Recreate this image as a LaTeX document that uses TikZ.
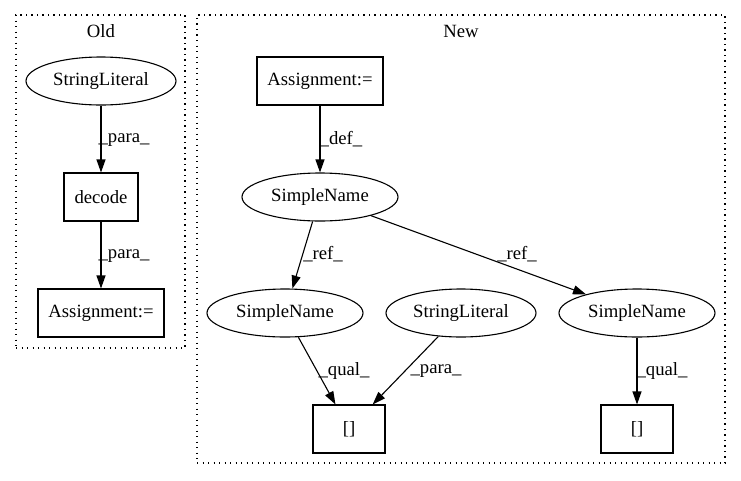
\documentclass[tikz,border=0pt]{standalone}
\usepackage{fontspec}
\setmainfont{Liberation Serif}
\usetikzlibrary{shapes.geometric,arrows.meta}
\begin{document}
\begin{tikzpicture}[x=1pt,y=-1pt,
  every node/.style={font=\fontsize{18.7}{22}\selectfont},
  ell/.style={draw,ellipse,line width=1.1pt,minimum width=150pt,minimum height=48pt,inner sep=0pt},
  boxn/.style={draw,rectangle,line width=1.1pt,minimum height=48pt,inner sep=0pt},
  clus/.style={draw,rectangle,line width=1.3pt,dash pattern=on 1.3pt off 4.2pt,inner sep=0pt},
  edge/.style={line width=1.1pt,-{Triangle[length=13pt,width=9pt]}},
  lbl/.style={inner sep=0pt}
]
\useasboundingbox (0,0) rectangle (741,480);
% clusters
\node[clus,minimum width=169pt,minimum height=333pt] (cold) at (100.5,181.5) {};
\node[clus,minimum width=528pt,minimum height=448pt] (cnew) at (461,239) {};
\node[lbl] (told) at (101,31) {Old};
\node[lbl] (tnew) at (461,31) {New};
% Old
\node[ell] (osl) at (101,81) {StringLiteral};
\node[boxn,minimum width=74pt] (dec) at (101,197) {decode};
\node[boxn,minimum width=126pt] (oas) at (101,313) {Assignment:=};
% New
\node[boxn,minimum width=126pt] (nas) at (320,81) {Assignment:=};
\node[ell,minimum width=156pt] (sn0) at (320,197) {SimpleName};
\node[ell,minimum width=156pt] (sn1) at (285,313) {SimpleName};
\node[ell] (nsl) at (461,313) {StringLiteral};
\node[ell,minimum width=156pt] (sn2) at (637,313) {SimpleName};
\node[boxn,minimum width=72pt] (b1) at (349,429) {[]};
\node[boxn,minimum width=72pt] (b2) at (637,429) {[]};
% edges
\draw[edge] (osl) -- (dec);
\draw[edge] (dec) -- (oas);
\draw[edge] (nas) -- (sn0);
\draw[edge] (sn0) -- (sn1);
\draw[edge] (sn0) -- (sn2);
\draw[edge] (sn1) -- (b1);
\draw[edge] (nsl) -- (b1);
\draw[edge] (sn2) -- (b2);
% labels
\node[lbl] (l1) at (124,140) {\_para\_};
\node[lbl] (l2) at (124,256) {\_para\_};
\node[lbl] (l3) at (341,139) {\_def\_};
\node[lbl] (l4) at (323,254) {\_ref\_};
\node[lbl] (l5) at (517,254) {\_ref\_};
\node[lbl] (l6) at (344,371) {\_qual\_};
\node[lbl] (l7) at (436,371) {\_para\_};
\node[lbl] (l8) at (662,371) {\_qual\_};
\end{tikzpicture}
\end{document}
